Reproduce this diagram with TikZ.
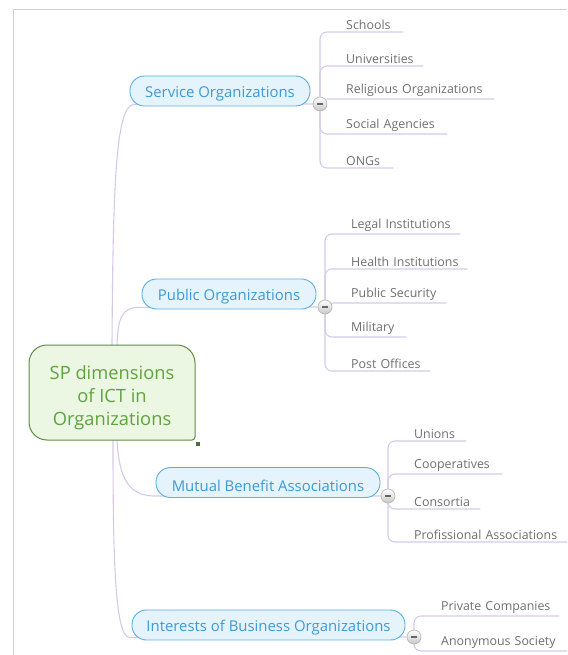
\documentclass[tikz,border=0pt]{standalone}
\usepackage{fontspec}
\setmainfont{Open Sans}
\usetikzlibrary{calc,backgrounds}
\definecolor{framegray}{HTML}{CFCFCF}
\definecolor{linklav}{HTML}{D6C9E8}
\definecolor{branchblue}{HTML}{3D9AD6}
\definecolor{branchedge}{HTML}{5BB0E2}
\definecolor{branchfill}{HTML}{E5F3FC}
\definecolor{rootgreen}{HTML}{5FA33E}
\definecolor{rootedge}{HTML}{5E8C45}
\definecolor{rootfill}{HTML}{EBF6E3}
\definecolor{leafgray}{HTML}{6F6F6F}
\definecolor{hubedge}{HTML}{B3B3B3}
% branch labels sit slightly low in their pills
\newcommand\lowered[1]{\raisebox{-3pt}[\height][\depth]{#1}}
\tikzset{
  link/.style={draw=linklav, line width=1.1pt},
  branch/.style={draw=branchedge, line width=0.9pt, fill=branchfill, text=branchblue,
    rounded corners=14.5pt, minimum height=30pt, inner xsep=0pt,
    font=\fontsize{14.9}{17}\selectfont},
  leaf/.style={anchor=south west, inner xsep=0pt, inner ysep=2.5pt, align=left,
    text=leafgray, font=\fontsize{12.4}{14}\selectfont, text width=#1pt},
  hub/.style={circle, draw=hubedge, line width=0.6pt, top color=white, bottom color=black!22,
    minimum size=14pt, inner sep=0pt,
    path picture={\draw[line width=1.8pt, black!60]
      ([xshift=-3pt]path picture bounding box.center) -- ([xshift=3pt]path picture bounding box.center);}},
}
\begin{document}
\begin{tikzpicture}[x=1pt,y=-1pt]
\useasboundingbox (0,0) rectangle (567,655);
% page frame
\draw[framegray, line width=1pt] (13,655) -- (13,10) -- (567,10);

% central topic
\fill[rootfill] (47,345) -- (177,345) arc[start angle=-90,end angle=0,radius=18]
  -- (195,437) arc[start angle=0,end angle=90,radius=3]
  -- (47,440) arc[start angle=90,end angle=180,radius=18]
  -- (29,363) arc[start angle=180,end angle=270,radius=18] -- cycle;
\draw[rootedge, line width=1pt] (47,345) -- (177,345) arc[start angle=-90,end angle=0,radius=18]
  -- (195,437) arc[start angle=0,end angle=90,radius=3]
  -- (47,440) arc[start angle=90,end angle=180,radius=18]
  -- (29,363) arc[start angle=180,end angle=270,radius=18] -- cycle;
\fill[rootedge!80!black] (195.5,441.5) rectangle (199.5,445.5);
\node (root) [minimum width=166pt, minimum height=95pt, inner sep=0pt, text=rootgreen,
  font=\fontsize{18.3}{23}\selectfont] at (112,392.5)
  {\raisebox{-5pt}[\height][\depth]{\begin{tabular}{@{}c@{}}SP dimensions\\of ICT in\\Organizations\end{tabular}}};

% main branches
\node (svc) [branch, minimum width=180pt] at (220,91) {\lowered{Service Organizations}};
\node (pub) [branch, minimum width=174pt] at (229,294) {\lowered{Public Organizations}};
\node (mut) [branch, minimum width=224pt] at (268,482.5) {\lowered{Mutual Benefit Associations}};
\node (biz) [branch, minimum width=273pt] at (268.5,625) {\lowered{Interests of Business Organizations}};

% collapse buttons
\node (h1) [hub] at (320,104) {};
\node (h2) [hub] at (325,307) {};
\node (h3) [hub] at (388,496) {};
\node (h4) [hub] at (414,637) {};

% subtopics
\node (s1) [leaf=57]  at (346,32)  {Schools};
\node (s2) [leaf=77]  at (346,66)  {Universities};
\node (s3) [leaf=148] at (346,99)  {Religious Organizations};
\node (s4) [leaf=101] at (346,134) {Social Agencies};
\node (s5) [leaf=47]  at (346,168) {ONGs};

\node (p1) [leaf=109] at (351,234) {Legal Institutions};
\node (p2) [leaf=116] at (351,269) {Health Institutions};
\node (p3) [leaf=95]  at (351,303) {Public Security};
\node (p4) [leaf=55]  at (351,337) {Military};
\node (p5) [leaf=79]  at (351,371) {Post Offices};

\node (m1) [leaf=52]  at (414,441) {Unions};
\node (m2) [leaf=88]  at (414,474) {Cooperatives};
\node (m3) [leaf=66]  at (414,509) {Consortia};
\node (m4) [leaf=153] at (414,542) {Profissional Associations};

\node (b1) [leaf=118] at (441,616) {Private Companies};
\node (b2) [leaf=126] at (441,651) {Anonymous Society};

\begin{scope}[on background layer]
  % central topic to branches
  \draw[link] (root.north) .. controls (113,180) and (116,104) .. ($(svc.south west)+(5,-2)$) -- (h1.center);
  \draw[link] ($(root.north)+(5,0)$) .. controls (118,318) and (122,307) .. ($(pub.south west)+(-2,-2)$) -- (h2.center);
  \draw[link] ($(root.south)+(5,0)$) .. controls (119,480) and (130,495) .. ($(mut.south west)+(-3,-2)$) -- (h3.center);
  \draw[link] ($(root.south)+(1,0)$) .. controls (113,560) and (115,637) .. ($(biz.south west)+(-2,-3)$) -- (h4.center);
  % branches to subtopics
  \begin{scope}[link, rounded corners=7pt]
    \foreach \h/\l in {h1/s1,h1/s2,h1/s3,h1/s4,h1/s5,h2/p1,h2/p2,h2/p3,h2/p4,h2/p5,
                       h3/m1,h3/m2,h3/m3,h3/m4,h4/b1,h4/b2}
      \draw (\h.center) |- (\l.south west) -- (\l.south east);
  \end{scope}
\end{scope}
\end{tikzpicture}
\end{document}
